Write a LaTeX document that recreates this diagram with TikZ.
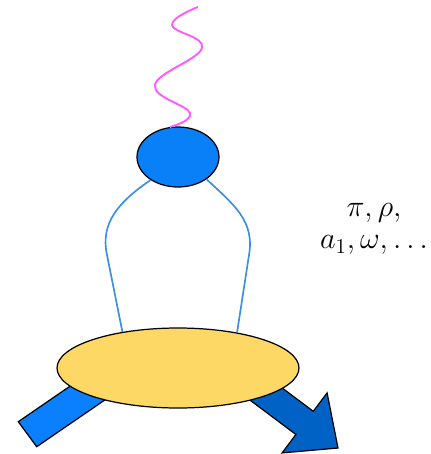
\documentclass[tikz,border=0pt]{standalone}
\usepackage{amsmath,amssymb}
\usepackage{tikz}
\usepackage{xcolor}
\usetikzlibrary{shapes.geometric, calc}

\definecolor{blobblue}{HTML}{0A80F8}
\definecolor{hadronyellow}{HTML}{FDD865}
\definecolor{quarkblue}{HTML}{3C8FE0}
\definecolor{photonpink}{HTML}{FF5CFF}
\definecolor{inblue}{HTML}{0A80FF}
\definecolor{outblue}{HTML}{0062C4}

\begin{document}
\begin{tikzpicture}[x=0.02cm, y=-0.02cm,
    blob/.style={ellipse, draw=black, line width=0.7pt, fill=blobblue, minimum width=1.64cm, minimum height=1.2cm, inner sep=0pt},
    hadron/.style={ellipse, draw=black, line width=0.7pt, fill=hadronyellow, minimum width=4.84cm, minimum height=1.6cm, inner sep=0pt},
    quark/.style={draw=quarkblue, line width=0.95pt},
    photon/.style={draw=photonpink, line width=1.1pt},
    bar/.style={draw=black, line width=0.7pt, line join=miter}
]
    \useasboundingbox (0,0) rectangle (431,454);

    \draw[bar, fill=inblue] (18.3,421.7) -- (109,359.4) -- (127.5,384.4) -- (36.7,446.7) -- cycle;
    \draw[bar, fill=outblue] (242.7,358.4) -- (313.3,411.3) -- (327.1,392.9) -- (338,448)
        -- (282.1,452.9) -- (295.9,434.5) -- (225.3,381.6) -- cycle;

    \node[hadron] (hadron) at (178,368) {};
    \node[blob] (blob) at (178,157) {};
    \node[align=center, font=\fontsize{17}{18.5}\selectfont] (mesons) at (374,229) {$\pi,\rho,$\\$a_1,\omega,\ldots$};

    \coordinate (lbend) at (107,255);
    \coordinate (rbend) at (249,255);
    \coordinate (gamma) at (198,7);

    \draw[photon] plot[smooth, tension=0.7] coordinates {(gamma) (172,25) (202,48) (155,85) (190,113) (blob.105)};
    \draw[quark] (blob.220) .. controls +(-32,22) and +(-7,-32) .. (lbend) -- (hadron.147);
    \draw[quark] (blob.322) .. controls +(27,25) and +(6,-34) .. (rbend) -- (hadron.31);
\end{tikzpicture}
\end{document}
